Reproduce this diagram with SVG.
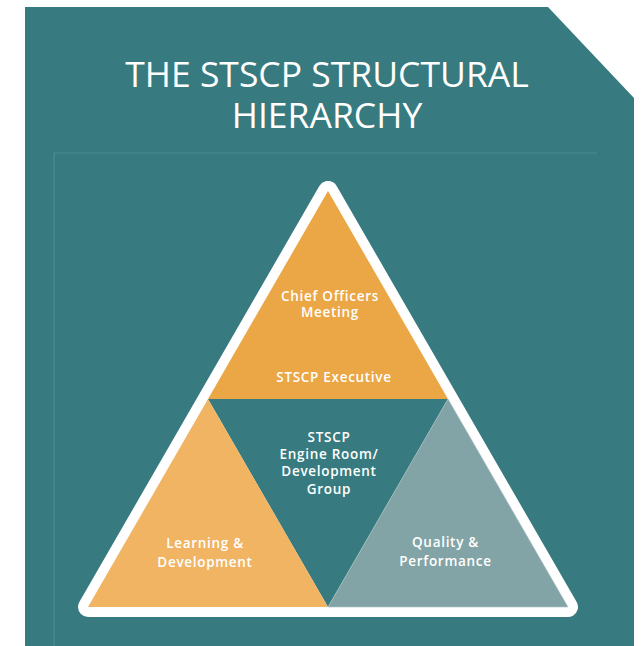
<svg xmlns="http://www.w3.org/2000/svg" width="641" height="646" viewBox="0 0 641 646">
<style>
.title{font-family:"Open Sans","Liberation Sans",sans-serif;font-size:35.5px;fill:#ffffff;text-anchor:middle}
.lbl{font-family:"Open Sans","Noto Sans","Liberation Sans",sans-serif;font-weight:600;font-size:13.5px;letter-spacing:0.7px;fill:#ffffff;text-anchor:middle}
</style>
<rect width="641" height="646" fill="#ffffff"/>
<polygon id="panel" points="25,7 548,7 634,98 634,646 25,646" fill="#377b80"/>
<g id="frame" fill="none" stroke="#4d8c90" stroke-width="1.2">
<polyline points="54,646 54,153 597,153"/>
</g>
<g id="title">
<text class="title" x="327" y="87">THE STSCP STRUCTURAL</text>
<text class="title" x="327" y="128">HIERARCHY</text>
</g>
<g id="pyramid-border">
<polygon points="328,191 568,607 88,607" fill="#ffffff" stroke="#ffffff" stroke-width="20" stroke-linejoin="round"/>
</g>
<g id="engine-room">
<polygon points="208,399 448,399 328,607" fill="#377b80"/>
<text class="lbl" x="329" y="442">STSCP</text>
<text class="lbl" x="329" y="459">Engine Room/</text>
<text class="lbl" x="329" y="476">Development</text>
<text class="lbl" x="329" y="494">Group</text>
</g>
<g id="executive">
<polygon points="328,191 448,399 208,399" fill="#eba645"/>
<text class="lbl" x="330" y="301">Chief Officers</text>
<text class="lbl" x="330" y="317">Meeting</text>
<text class="lbl" x="334" y="382">STSCP Executive</text>
</g>
<g id="learning">
<polygon points="208,399 328,607 88,607" fill="#f0b463"/>
<text class="lbl" x="205" y="548">Learning &amp;</text>
<text class="lbl" x="205" y="567">Development</text>
</g>
<g id="quality">
<polygon points="448,399 568,607 328,607" fill="#83a4a6" stroke="#a9c2c3" stroke-width="0.6"/>
<text class="lbl" x="445.5" y="547">Quality &amp;</text>
<text class="lbl" x="445.5" y="566">Performance</text>
</g>
</svg>
